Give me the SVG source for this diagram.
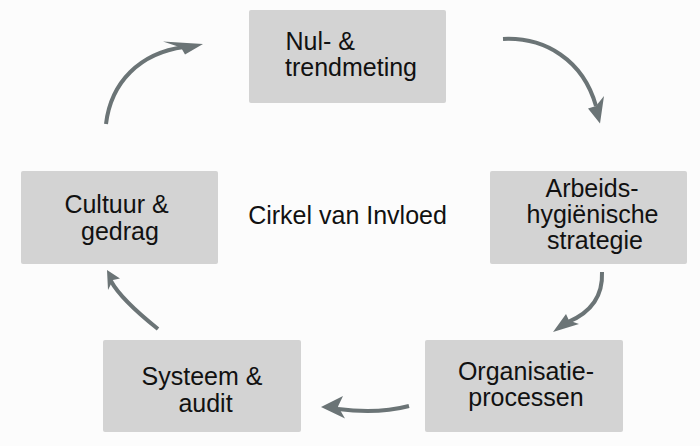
<svg xmlns="http://www.w3.org/2000/svg" width="700" height="446" viewBox="0 0 700 446">
<style>
.box{fill:#d3d3d3;}
.lbl{font-family:"Liberation Sans",Arial,sans-serif;font-size:25px;fill:#111;text-anchor:middle;}
.shaft{fill:none;stroke:#6b7476;stroke-width:4;stroke-linecap:butt;}
.head{fill:#6b7476;}
</style>
<rect width="700" height="446" fill="#fcfcfc"/>
<g id="node-nul">
<rect class="box" x="249" y="10" width="197" height="93" rx="2"/>
<text class="lbl" style="text-anchor:start" x="285.5" y="49.5">Nul- &amp;</text>
<text class="lbl" style="text-anchor:start" x="285" y="75.5">trendmeting</text>
</g>
<g id="node-arbeids">
<rect class="box" x="490" y="171" width="197" height="93" rx="2"/>
<text class="lbl" x="592" y="197">Arbeids-</text>
<text class="lbl" x="592.5" y="223">hygiënische</text>
<text class="lbl" x="595" y="249">strategie</text>
</g>
<g id="node-organisatie">
<rect class="box" x="425" y="340" width="198" height="92" rx="2"/>
<text class="lbl" x="526" y="380">Organisatie-</text>
<text class="lbl" x="526" y="406">processen</text>
</g>
<g id="node-systeem">
<rect class="box" x="103" y="340" width="198" height="92" rx="2"/>
<text class="lbl" x="202" y="385">Systeem &amp;</text>
<text class="lbl" x="205.5" y="411.5">audit</text>
</g>
<g id="node-cultuur">
<rect class="box" x="21" y="171" width="197" height="93" rx="2"/>
<text class="lbl" x="116.5" y="212.5">Cultuur &amp;</text>
<text class="lbl" x="120" y="240">gedrag</text>
</g>
<g id="title">
<text class="lbl" x="347.5" y="224">Cirkel van Invloed</text>
</g>
<g id="connectors">
<g id="arrow-cultuur-nul">
<path class="shaft" d="M106,124 C111,82 140,53 184,47"/>
<path class="head" d="M163,41.5 L203,44 L185,54.5 L181,47.5 Z"/>
</g>
<g id="arrow-nul-arbeids">
<path class="shaft" d="M503,39 C545,37 583,60 596,106"/>
<path class="head" d="M604,96 L600,123.5 L588,108.5 L596,106 Z"/>
</g>
<g id="arrow-arbeids-organisatie">
<path class="shaft" d="M602,272 C603,295 592,312 568,322"/>
<path class="head" d="M553,332 L566,314 L569,320.5 L579,324 Z"/>
</g>
<g id="arrow-organisatie-systeem">
<path class="shaft" d="M409,406 C390,411 368,413 338,409"/>
<path class="head" d="M321,407 L343,396 L338,406.5 L345,418.5 Z"/>
</g>
<g id="arrow-systeem-cultuur">
<path class="shaft" d="M158,329 C138,313 119,296 111,281"/>
<path class="head" d="M107,270 L120,278.5 L113,280 L108,290 Z"/>
</g>
</g>
</svg>
